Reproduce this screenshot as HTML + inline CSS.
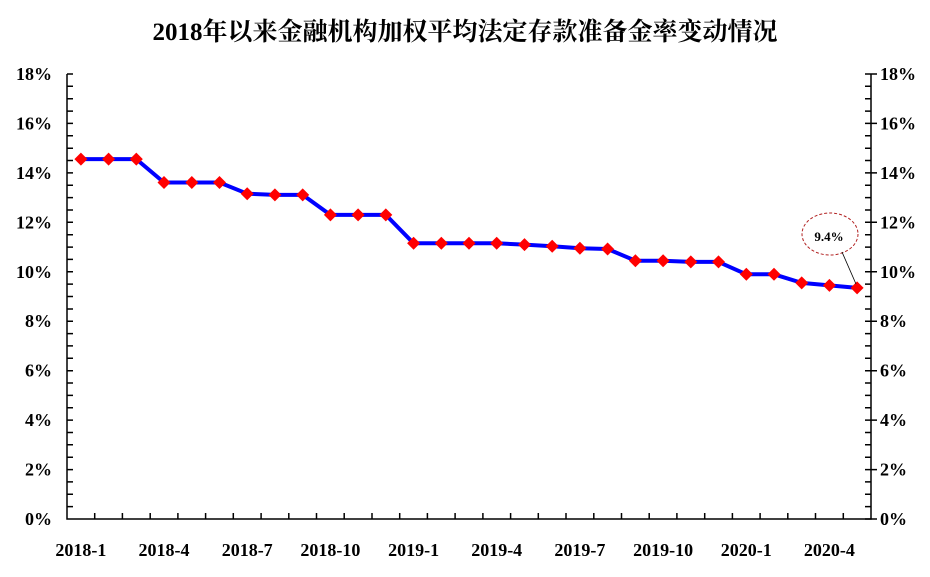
<!DOCTYPE html>
<html><head><meta charset="utf-8"><style>body{margin:0;background:#fff}</style></head><body>
<svg width="930" height="572" xmlns="http://www.w3.org/2000/svg" xmlns:xlink="http://www.w3.org/1999/xlink" font-family="Liberation Serif, Noto Serif CJK SC, serif" font-weight="bold">
<defs><polygon id="d" points="-6.5,0 0,-6.5 6.5,0 0,6.5" fill="#ff0000"/></defs>
<text x="465" y="40" text-anchor="middle" font-size="25">2018年以来金融机构加权平均法定存款准备金率变动情况</text>
<g stroke="#000" stroke-width="1.5" fill="none">
<polyline points="67,74 67,519 871,519 871,74"/>
<path d="M67 506.6h6M67 494.3h6M67 481.9h6M67 469.6h6M67 457.2h6M67 444.8h6M67 432.5h6M67 420.1h6M67 407.8h6M67 395.4h6M67 383h6M67 370.7h6M67 358.3h6M67 345.9h6M67 333.6h6M67 321.2h6M67 309h6M67 296.5h6M67 284.1h6M67 271.8h6M67 259.4h6M67 247.1h6M67 234.7h6M67 222.3h6M67 210h6M67 197.6h6M67 185.3h6M67 172.9h6M67 160.5h6M67 148.2h6M67 135.8h6M67 123.4h6M67 111.1h6M67 98.7h6M67 86.3h6M67 74h6"/>
<path d="M865 519h12M865 506.6h6M865 494.3h6M865 481.9h6M865 469.6h12M865 457.2h6M865 444.8h6M865 432.5h6M865 420.1h12M865 407.8h6M865 395.4h6M865 383h6M865 370.7h12M865 358.3h6M865 345.9h6M865 333.6h6M865 321.2h12M865 309h6M865 296.5h6M865 284.1h6M865 271.8h12M865 259.4h6M865 247.1h6M865 234.7h6M865 222.3h12M865 210h6M865 197.6h6M865 185.3h6M865 172.9h12M865 160.5h6M865 148.2h6M865 135.8h6M865 123.4h12M865 111.1h6M865 98.7h6M865 86.3h6M865 74h12"/>
<path d="M94.7 519v-6M122.4 519v-6M150.2 519v-6M177.9 519v-6M205.6 519v-6M233.3 519v-6M261.1 519v-6M288.8 519v-6M316.5 519v-6M344.2 519v-6M372 519v-6M399.7 519v-6M427.4 519v-6M455.1 519v-6M482.9 519v-6M510.6 519v-6M538.3 519v-6M566 519v-6M593.8 519v-6M621.5 519v-6M649.2 519v-6M676.9 519v-6M704.7 519v-6M732.4 519v-6M760.1 519v-6M787.8 519v-6M815.5 519v-6M843.3 519v-6"/>
</g>
<g font-size="18" text-anchor="end">
<text x="52" y="525">0%</text><text x="52" y="475.6">2%</text><text x="52" y="426.1">4%</text><text x="52" y="376.7">6%</text><text x="52" y="327.2">8%</text><text x="52" y="277.8">10%</text><text x="52" y="228.3">12%</text><text x="52" y="178.9">14%</text><text x="52" y="129.4">16%</text><text x="52" y="80">18%</text>
</g>
<g font-size="18">
<text x="880" y="525">0%</text><text x="880" y="475.6">2%</text><text x="880" y="426.1">4%</text><text x="880" y="376.7">6%</text><text x="880" y="327.2">8%</text><text x="880" y="277.8">10%</text><text x="880" y="228.3">12%</text><text x="880" y="178.9">14%</text><text x="880" y="129.4">16%</text><text x="880" y="80">18%</text>
</g>
<g font-size="18" text-anchor="middle">
<text x="80.9" y="556">2018-1</text><text x="164" y="556">2018-4</text><text x="247.2" y="556">2018-7</text><text x="330.4" y="556">2018-10</text><text x="413.6" y="556">2019-1</text><text x="496.7" y="556">2019-4</text><text x="579.9" y="556">2019-7</text><text x="663.1" y="556">2019-10</text><text x="746.3" y="556">2020-1</text><text x="829.4" y="556">2020-4</text>
</g>
<polyline fill="none" stroke="#0000ff" stroke-width="4" stroke-linejoin="round" points="80.9,159.1 108.6,159.1 136.3,159.1 164,182.5 191.8,182.5 219.5,182.5 247.2,193.7 274.9,194.9 302.7,194.9 330.4,214.9 358.1,214.9 385.8,214.9 413.6,243.3 441.3,243.3 469,243.3 496.7,243.3 524.5,244.6 552.2,246.3 579.9,248.3 607.6,249 635.4,260.7 663.1,260.7 690.8,261.9 718.5,261.9 746.3,274.3 774,274.3 801.7,282.9 829.4,285.4 857.1,287.9"/>
<g>
<use xlink:href="#d" x="80.9" y="159.1"/><use xlink:href="#d" x="108.6" y="159.1"/><use xlink:href="#d" x="136.3" y="159.1"/><use xlink:href="#d" x="164" y="182.5"/><use xlink:href="#d" x="191.8" y="182.5"/><use xlink:href="#d" x="219.5" y="182.5"/><use xlink:href="#d" x="247.2" y="193.7"/><use xlink:href="#d" x="274.9" y="194.9"/><use xlink:href="#d" x="302.7" y="194.9"/><use xlink:href="#d" x="330.4" y="214.9"/><use xlink:href="#d" x="358.1" y="214.9"/><use xlink:href="#d" x="385.8" y="214.9"/><use xlink:href="#d" x="413.6" y="243.3"/><use xlink:href="#d" x="441.3" y="243.3"/><use xlink:href="#d" x="469" y="243.3"/><use xlink:href="#d" x="496.7" y="243.3"/><use xlink:href="#d" x="524.5" y="244.6"/><use xlink:href="#d" x="552.2" y="246.3"/><use xlink:href="#d" x="579.9" y="248.3"/><use xlink:href="#d" x="607.6" y="249"/><use xlink:href="#d" x="635.4" y="260.7"/><use xlink:href="#d" x="663.1" y="260.7"/><use xlink:href="#d" x="690.8" y="261.9"/><use xlink:href="#d" x="718.5" y="261.9"/><use xlink:href="#d" x="746.3" y="274.3"/><use xlink:href="#d" x="774" y="274.3"/><use xlink:href="#d" x="801.7" y="282.9"/><use xlink:href="#d" x="829.4" y="285.4"/><use xlink:href="#d" x="857.1" y="287.9"/>
</g>
<ellipse cx="830" cy="234" rx="28" ry="21" fill="none" stroke="#b22222" stroke-dasharray="3,2"/>
<text x="829" y="241" text-anchor="middle" font-size="13">9.4%</text>
<line x1="842" y1="252" x2="856" y2="284" stroke="#000" stroke-width="0.8"/>
</svg>
</body></html>
